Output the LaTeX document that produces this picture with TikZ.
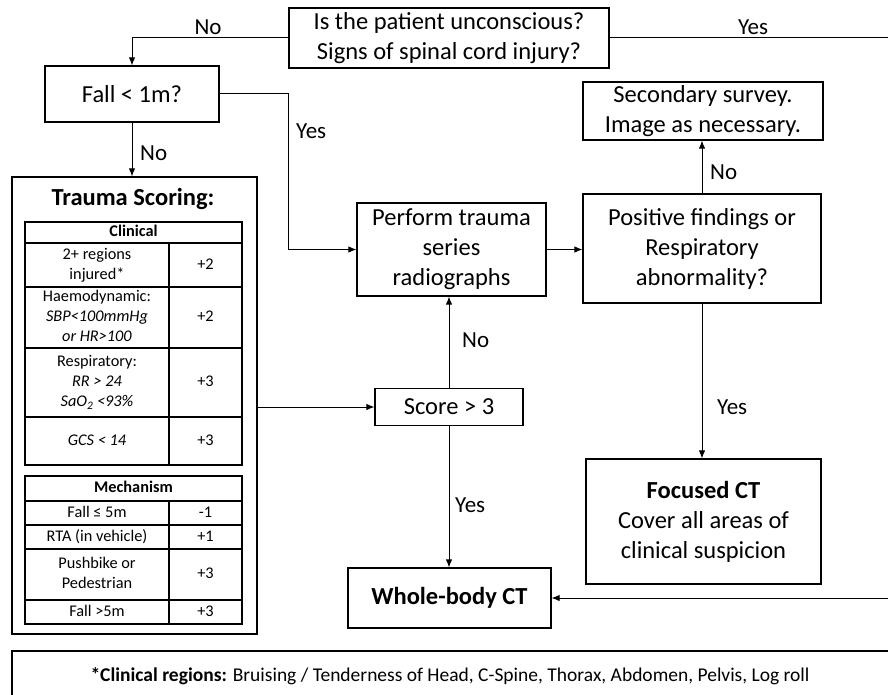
\documentclass[tikz,border=0pt]{standalone}
\usepackage{fontspec}
\setmainfont{Carlito}
\usetikzlibrary{arrows.meta}

\begin{document}
\begin{tikzpicture}[x=1pt, y=-1pt,
  box/.style={draw, line width=1.2pt, align=center, inner sep=0pt, font=\fontsize{24.5}{30}\selectfont},
  lbl/.style={inner sep=0pt, font=\fontsize{23}{28}\selectfont},
  cell/.style={inner sep=0pt, align=center, font=\fontsize{16.3}{20}\selectfont},
  arr/.style={-{Latex[length=8pt,width=6.5pt]}, line width=1pt},
  tline/.style={line width=1.2pt}]
  \useasboundingbox (0,0) rectangle (888,695);

  % Cajas
  \node[box, minimum width=320, minimum height=60] (quest) at (449,38) {Is the patient unconscious?\\Signs of spinal cord injury?};
  \node[box, minimum width=174, minimum height=56] (fall) at (132,94) {Fall < 1m?};
  \node[box, minimum width=245, minimum height=457] (scoring) at (134.5,405.5) {};
  \node[box, minimum width=189, minimum height=93] (series) at (451.5,249.5) {Perform trauma\\series\\radiographs};
  \node[box, minimum width=238, minimum height=109] (posfind) at (702,248.5) {Positive findings or\\Respiratory\\abnormality?};
  \node[box, minimum width=240, minimum height=58] (secsurv) at (703,111) {Secondary survey.\\Image as necessary.};
  \node[box, minimum width=148, minimum height=37] (score) at (449,407) {Score > 3};
  \node[box, minimum width=235, minimum height=125] (focused) at (703.5,521.5) {\textbf{Focused CT}\\Cover all areas of\\clinical suspicion};
  \node[box, minimum width=203, minimum height=60] (whole) at (449.5,598) {\textbf{Whole-body CT}};

  % Tabla de puntuacion
  \node[inner sep=0pt, font=\fontsize{24.5}{30}\selectfont\bfseries] (tstitle) at (133,199) {Trauma Scoring:};
  \draw[tline] (25,222) rectangle (242,465);
  \draw[tline] (25,243) -- (242,243);
  \foreach \y in {287,348,417} \draw[tline] (25,\y) -- (242,\y);
  \draw[tline] (169,243) -- (169,465);
  \node[cell, font=\fontsize{16.3}{20}\selectfont\bfseries] (clin) at (133.5,232.5) {\strut Clinical};
  \node[cell] (c1) at (97,265) {\strut 2+ regions\\injured*\strut};
  \node[cell] (c1s) at (205.5,265) {\strut +2};
  \node[cell] (c2) at (97,317.5) {\strut Haemodynamic:\\\textit{SBP<100mmHg}\\\textit{or HR>100}\strut};
  \node[cell] (c2s) at (205.5,317.5) {\strut +2};
  \node[cell] (c3) at (97,382.5) {\strut Respiratory:\\\textit{RR > 24}\\\textit{SaO\textsubscript{2} <93\%}\strut};
  \node[cell] (c3s) at (205.5,382.5) {\strut +3};
  \node[cell] (c4) at (97,441) {\strut\textit{GCS < 14}};
  \node[cell] (c4s) at (205.5,441) {\strut +3};

  \draw[tline] (25,476) rectangle (242,624);
  \draw[tline] (25,501) -- (242,501);
  \foreach \y in {525,549,600} \draw[tline] (25,\y) -- (242,\y);
  \draw[tline] (169,501) -- (169,624);
  \node[cell, font=\fontsize{16.3}{20}\selectfont\bfseries] (mech) at (133.5,488.5) {\strut Mechanism};
  \node[cell] (m1) at (97,513) {\strut Fall ≤ 5m};
  \node[cell] (m1s) at (205.5,513) {\strut -1};
  \node[cell] (m2) at (97,537) {\strut RTA (in vehicle)};
  \node[cell] (m2s) at (205.5,537) {\strut +1};
  \node[cell] (m3) at (97,574.5) {\strut Pushbike or\\Pedestrian\strut};
  \node[cell] (m3s) at (205.5,574.5) {\strut +3};
  \node[cell] (m4) at (97,612) {\strut Fall >5m};
  \node[cell] (m4s) at (205.5,612) {\strut +3};

  % Nota
  \draw[line width=1.2pt] (12,720) -- (12,651) -- (900,651);
  \node[inner sep=0pt, font=\fontsize{19.5}{24}\selectfont] (note) at (450,676) {\textbf{*Clinical regions:} Bruising / Tenderness of Head, C-Spine, Thorax, Abdomen, Pelvis, Log roll};

  % Flechas
  \coordinate (rt) at (895,38);
  \draw[arr] (quest.west) -| (fall.north);
  \node[lbl] (lno1) at (208,27) {No};
  \draw[arr] (quest.east) -- (rt) |- (whole.east);
  \node[lbl] (lyes1) at (753,27) {Yes};
  \draw[arr] (fall.east) -- ++(69,0) |- (series.west);
  \node[lbl, anchor=west] (lyes2) at (296,131) {Yes};
  \draw[arr] (fall.south) -- (fall.south |- scoring.north);
  \node[lbl, anchor=west] (lno2) at (140,153) {No};
  \draw[arr] (scoring.east |- score.west) -- (score.west);
  \draw[arr] (score.north) -- (score.north |- series.south);
  \node[lbl, anchor=west] (lno3) at (462,340) {No};
  \draw[arr] (score.south) -- (score.south |- whole.north);
  \node[lbl, anchor=west] (lyes3) at (455,505) {Yes};
  \draw[arr] (series.east) -- (series.east -| posfind.west);
  \draw[arr] (posfind.north) -- (posfind.north |- secsurv.south);
  \node[lbl, anchor=west] (lno4) at (710,172) {No};
  \draw[arr] (posfind.south) -- (posfind.south |- focused.north);
  \node[lbl, anchor=west] (lyes4) at (717,407) {Yes};
\end{tikzpicture}
\end{document}
